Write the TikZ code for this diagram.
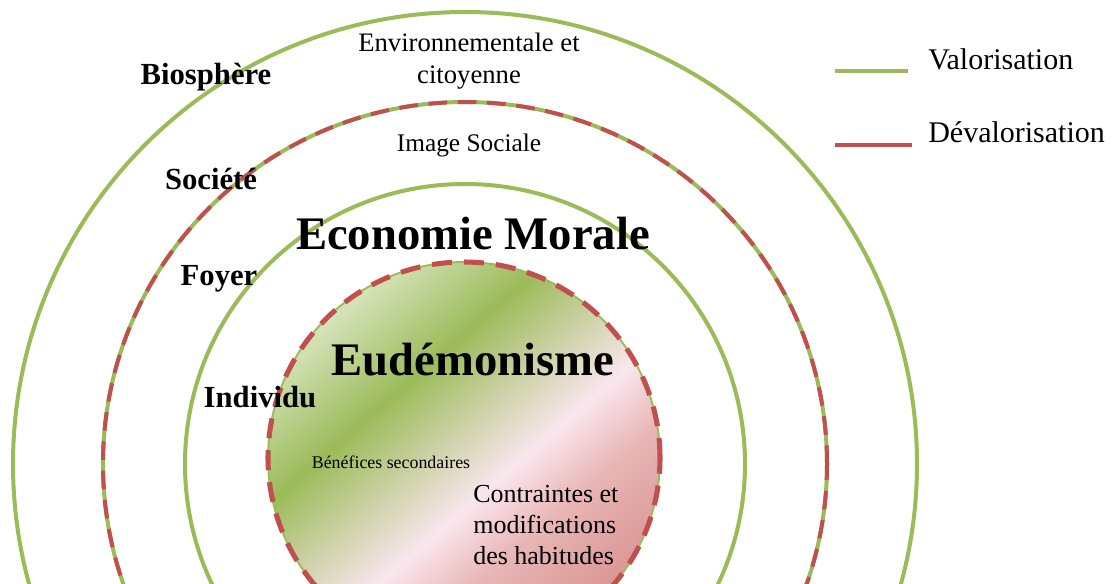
\documentclass[tikz,border=0pt]{standalone}
\usepackage{fontspec}
\setmainfont{Liberation Serif}
\usetikzlibrary{positioning}

\definecolor{valgreen}{RGB}{155,187,89}
\definecolor{devred}{RGB}{192,80,77}
\definecolor{lightgreen}{RGB}{215,228,189}
\definecolor{blush}{RGB}{250,230,238}
\definecolor{rosemid}{RGB}{232,182,182}
\definecolor{rosered}{RGB}{217,150,148}

\pgfdeclarehorizontalshading{eudemonia}{100bp}{color(0bp)=(lightgreen); color(25bp)=(lightgreen); color(38bp)=(valgreen); color(55bp)=(blush); color(63bp)=(rosemid); color(75bp)=(rosered); color(100bp)=(rosered)}

\begin{document}
\begin{tikzpicture}[
    x=0.75pt, y=0.75pt,
    ring/.style={draw=valgreen, line width=3pt},
    redring/.style={draw=devred, line width=3pt, dash pattern=on 14pt off 8pt},
    level/.style={font=\fontsize{23}{27}\selectfont\bfseries, inner sep=0pt},
    title/.style={font=\fontsize{35}{40}\selectfont\bfseries, inner sep=0pt},
    note/.style={font=\fontsize{19.5}{23}\selectfont, inner sep=0pt, align=center},
    legline/.style={line width=3pt}
]
    \useasboundingbox (0,0) rectangle (1117,-583);
    \clip (0,0) rectangle (1117,-583);

    % Circles
    \coordinate (centre) at (465,-464);
    \coordinate (core) at (464,-458);
    \draw[ring] (centre) circle[radius=452];
    \draw[ring] (centre) circle[radius=362];
    \draw[redring] (centre) circle[radius=362];
    \draw[ring] (centre) circle[radius=280];
    \shade[shading=eudemonia, shading angle=-49] (core) circle[radius=196];
    \draw[valgreen, line width=1.4pt] (core) circle[radius=196];
    \draw[redring, line width=3.8pt, dash pattern=on 15pt off 9pt] (core) circle[radius=196];

    % Levels
    \node[level] (biosphere) at (206,-77) {Biosphère};
    \node[level] (societe) at (211,-179) {Société};
    \node[level] (foyer) at (219,-279) {Foyer};
    \node[level] (individu) at (260,-397) {Individu};

    % Texts in the rings
    \node[note, font=\fontsize{20}{23.5}\selectfont] (environ) at (469,-61) {Environnementale et\\citoyenne};
    \node[note, font=\fontsize{19}{22}\selectfont] (image) at (469,-145) {Image Sociale};
    \node[title] (economie) at (473,-234) {Economie Morale};
    \node[title] (eudemonisme) at (473,-360) {Eudémonisme};
    \node[font=\fontsize{13.4}{16}\selectfont, inner sep=0pt] (benefices) at (391,-462) {Bénéfices secondaires};
    \node[note, align=left, anchor=west] (contraintes) at (473,-525) {Contraintes et\\modifications\\des habitudes};

    % Legend
    \coordinate (valstart) at (835,-71);
    \coordinate (valend) at (908,-71);
    \coordinate (devstart) at (835,-145);
    \coordinate (devend) at (912,-145);
    \draw[legline, valgreen] (valstart) -- (valend);
    \draw[legline, devred] (devstart) -- (devend);
    \node[note, font=\fontsize{22.5}{26}\selectfont, anchor=west] (valorisation) at (928,-59) {Valorisation};
    \node[note, font=\fontsize{22.5}{26}\selectfont, anchor=west] (devalorisation) at (928,-132) {Dévalorisation};
\end{tikzpicture}
\end{document}
